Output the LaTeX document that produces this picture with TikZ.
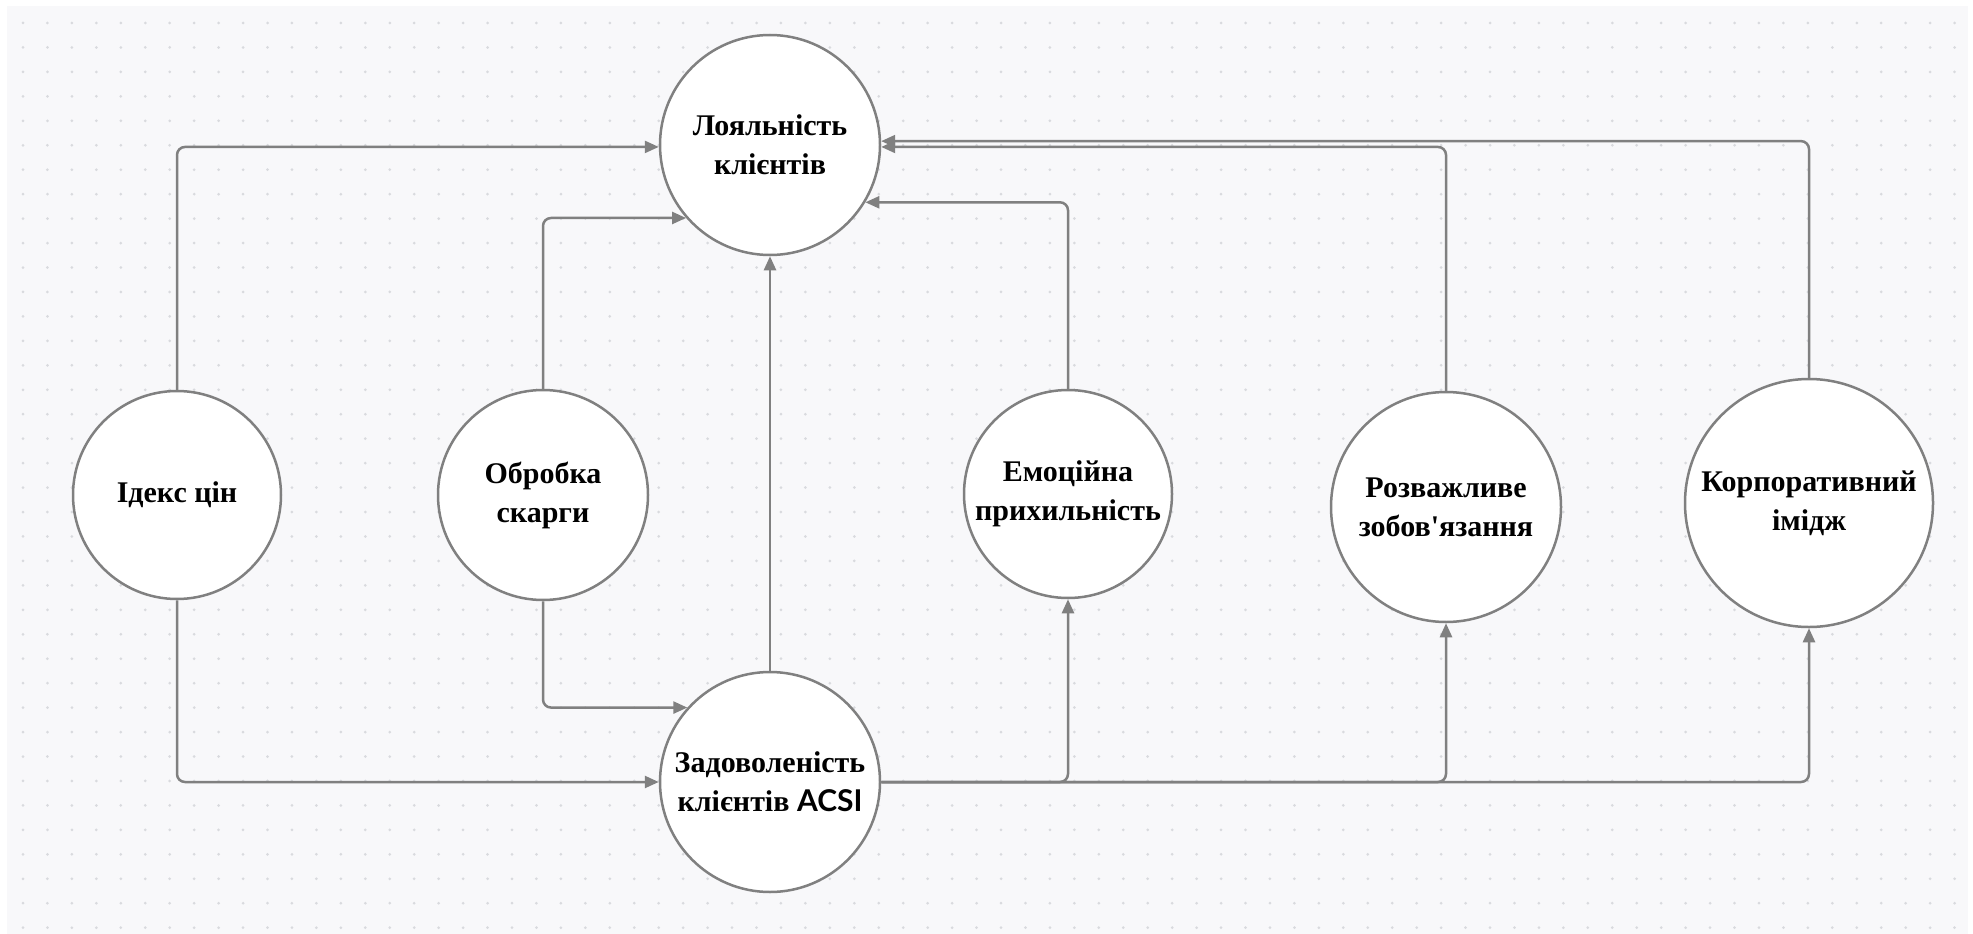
\documentclass[tikz,border=0pt]{standalone}
\usepackage{fontspec}
\setmainfont{Liberation Serif}
\newfontfamily\plainserif{Liberation Serif}
\newfontfamily\acsifont{Lato}
\usetikzlibrary{arrows.meta}
\definecolor{bgc}{HTML}{F8F8FA}
\definecolor{dotc}{HTML}{D9DADE}
\definecolor{linec}{HTML}{808080}
\begin{document}
\begin{tikzpicture}[x=1pt,y=-1pt,
  state/.style={circle, draw=linec, line width=2.5pt, fill=white, inner sep=0pt, align=center,
    font=\plainserif\bfseries\fontsize{30}{39}\selectfont},
  link/.style={draw=linec, line width=2.5pt, rounded corners=8pt, -{Triangle[length=14pt,width=12pt]}}]
\useasboundingbox (0,0) rectangle (1973,934);
\fill[white] (0,0) rectangle (1973,934);
\fill[bgc] (7,6) rectangle (1968,934);
\foreach \i in {0,...,79} {\foreach \j in {0,...,37} {\fill[dotc] (23+\i*24.45, 23+\j*24.45) circle (1.5);}}
\node[state, minimum size=220pt] (L) at (770,145) {Лояльність\\клієнтів};
\node[state, minimum size=220pt] (S) at (770,782) {Задоволеність\\клієнтів {\acsifont ACSI}};
\node[state, minimum size=208pt] (I) at (177,495) {Ідекс цін};
\node[state, minimum size=210pt] (O) at (543,495) {Обробка\\скарги};
\node[state, minimum size=208pt] (E) at (1068,494) {Емоційна\\прихильність};
\node[state, minimum size=230pt] (R) at (1446,507) {Розважливе\\зобов'язання};
\node[state, minimum size=248pt] (C) at (1809,503) {Корпоративний\\імідж};
\draw[link] (I.north) |- (L.181.5);
\draw[link] (I.south) |- (S.west);
\draw[link] (O.north) |- (L.221.6);
\draw[link] (O.south) |- (S.138);
\draw[link] (S) -- (L);
\draw[link] (S.east) -| (E.south);
\draw[link] (S.east) -| (R.south);
\draw[link] (S.east) -| (C.south);
\draw[link] (E.north) |- (L.-31);
\draw[link] (R.north) |- (L.-1);
\draw[link] (C.north) |- (L.2);
\end{tikzpicture}
\end{document}
